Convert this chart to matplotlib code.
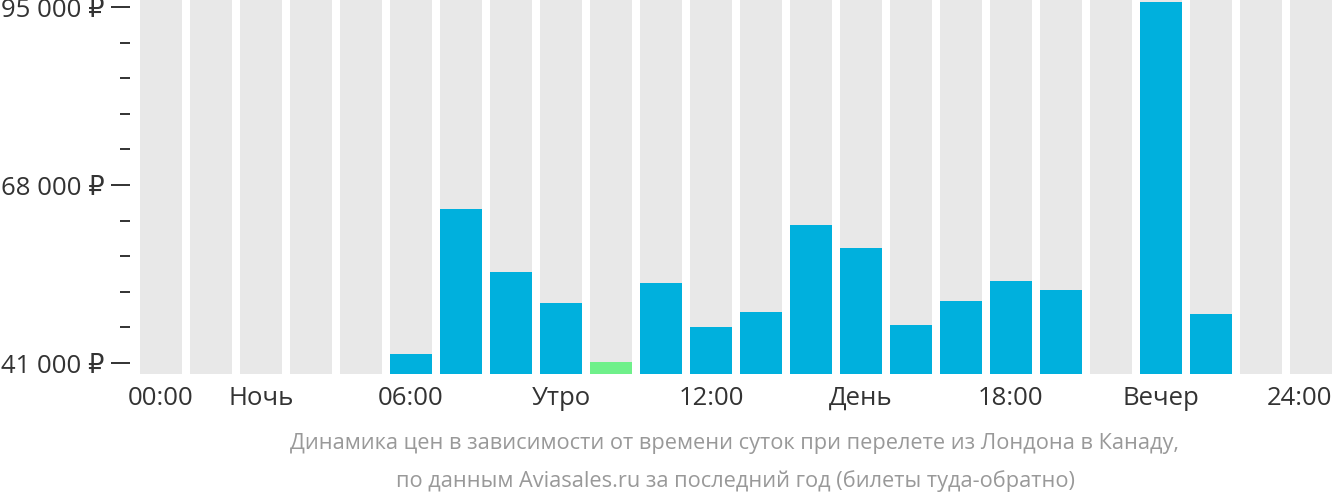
import numpy as np
import matplotlib.pyplot as plt
from matplotlib.ticker import FixedLocator, FuncFormatter

plt.rcParams['font.family'] = ['Open Sans', 'DejaVu Sans']

# price by departure hour (0..23), None = no data
hours = list(range(24))
prices = [None, None, None, None, None, 42365, 64360, 54800, 50100, 41150,
          53135, 46460, 48740, 61930, 58440, 46760, 50400, 53440, 52070, None,
          95760, 48430, None, None]
cheapest_hour = 9

tick_pos = [0, 2, 5, 8, 11, 14, 17, 20, 22.76]
tick_labels = ["00:00", "Ночь", "06:00", "Утро", "12:00", "День", "18:00", "Вечер", "24:00"]

y_major = [41000, 68000, 95000]
y_min, y_max = 39331, 96213

fig = plt.figure(figsize=(13.32, 5.02), dpi=100)
ax = fig.add_axes([130/1332, 127/502, 1202/1332, 375/502])

width = 0.84
# gray background columns
ax.bar(hours, [y_max - y_min]*24, bottom=y_min, width=width, color="#e8e8e8", zorder=1)

for h, p in zip(hours, prices):
    if p is None:
        continue
    col = "#6ff08a" if h == cheapest_hour else "#00b0dd"
    ax.bar(h, p - y_min, bottom=y_min, width=width, color=col, zorder=2)

ax.set_xlim(-0.62, 23.42)
ax.set_ylim(y_min, y_max)

for s in ax.spines.values():
    s.set_visible(False)

ax.set_xticks(tick_pos)
ax.set_xticklabels(tick_labels)
ax.tick_params(axis="x", length=0, pad=21.6, labelsize=18.5, labelcolor="#333333")
for lab in ax.get_xticklabels():
    lab.set_verticalalignment("baseline")

ax.yaxis.set_major_locator(FixedLocator(y_major))
minor = []
for a, b in zip(y_major[:-1], y_major[1:]):
    minor += list(np.linspace(a, b, 6)[1:-1])
ax.yaxis.set_minor_locator(FixedLocator(minor))
ax.yaxis.set_major_formatter(FuncFormatter(lambda v, p: f"{int(v):,}".replace(",", " ") + " ₽"))
ax.tick_params(axis="y", which="major", length=14, width=1.3, color="#222222",
               pad=4.5, labelsize=18.5, labelcolor="#333333")
ax.tick_params(axis="y", which="minor", length=7, width=1.3, color="#222222")

fig.text(735/1332, 1 - 444/502, "Динамика цен в зависимости от времени суток при перелете из Лондона в Канаду,",
         ha="center", va="center", fontsize=15.7, color="#999999")
fig.text(735/1332, 1 - 481/502, "по данным Aviasales.ru за последний год (билеты туда-обратно)",
         ha="center", va="center", fontsize=15.7, color="#999999")

fig.savefig("out.png", dpi=100)
